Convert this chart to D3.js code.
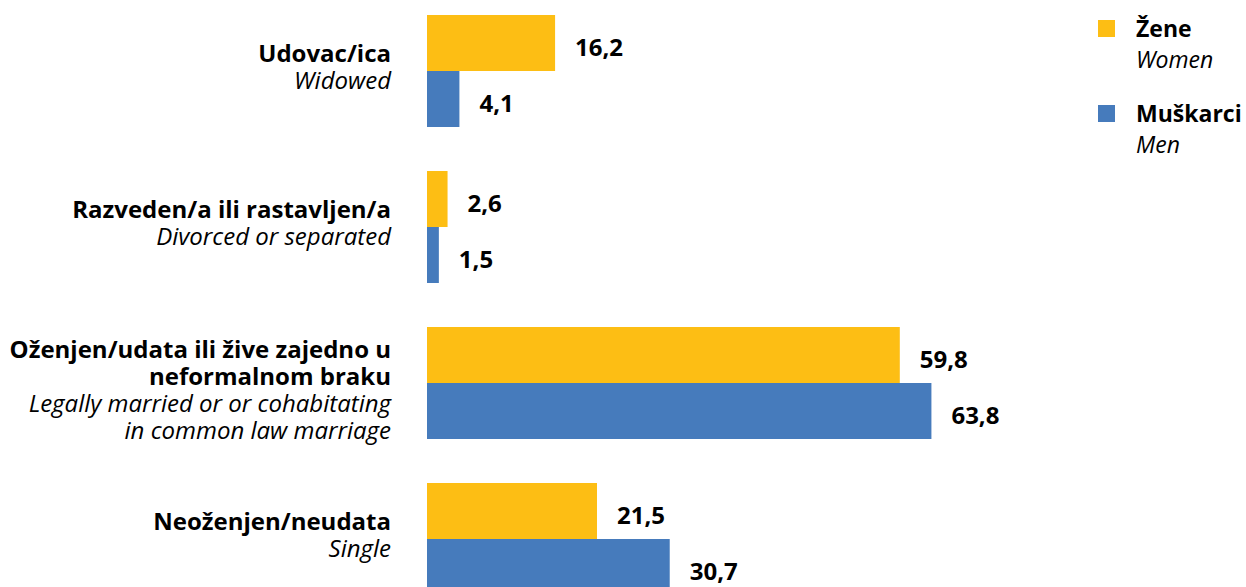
<!DOCTYPE html>
<html>
<head>
<meta charset="utf-8">
<script src="https://cdn.jsdelivr.net/npm/d3@7"></script>
<style>
  body { margin: 0; background: #fff; }
  text { font-family: "Open Sans", "DejaVu Sans", sans-serif; fill: #000; }
</style>
</head>
<body>
<div id="chart"></div>
<script>
const width = 1246,
      height = 587,
      bar_left = 427,
      label_right = 391,
      label_font = '24px',
      value_font = '24px',
      legend_font = '23px',
      line_height = 27,
      color_women = '#FDBE14',
      color_men = '#467BBC'

// data
const categories = ['Udovac/ica', 'Razveden/a ili rastavljen/a', 'Oženjen/udata ili žive zajedno u neformalnom braku', 'Neoženjen/neudata']
const category_lines = [
  ['Udovac/ica'],
  ['Razveden/a ili rastavljen/a'],
  ['Oženjen/udata ili žive zajedno u', 'neformalnom braku'],
  ['Neoženjen/neudata']
]
const category_en = [
  ['Widowed'],
  ['Divorced or separated'],
  ['Legally married or or cohabitating', 'in common law marriage'],
  ['Single']
]
const series_keys = ['women', 'men']
const series_names = ['Žene', 'Muškarci']
const series_names_en = ['Women', 'Men']
const women_values = [16.2, 2.6, 59.8, 21.5]
const men_values = [4.1, 1.5, 63.8, 30.7]

function fmt(v) {
  return d3.format('.1f')(v).replace('.', ',')
}

const svg = d3.select('#chart')
  .append('svg')
  .attr('width', width)
  .attr('height', height)

const x = d3.scaleLinear().domain([0, 64]).range([bar_left, 933])

const y = d3.scaleBand()
  .domain(categories)
  .range([15, 595])
  .paddingInner(44 / 156)
  .paddingOuter(0)

const y_sub = d3.scaleBand()
  .domain(series_keys)
  .range([0, y.bandwidth()])

const color = d3.scaleOrdinal().domain(series_keys).range([color_women, color_men])

const rows = categories.map((c, i) => ({
  category: c,
  index: i,
  values: [
    { key: 'women', value: women_values[i] },
    { key: 'men', value: men_values[i] }
  ]
}))

const groups = svg.selectAll('g.group')
  .data(rows)
  .join('g')
  .attr('class', 'group')
  .attr('transform', d => `translate(0,${y(d.category)})`)

groups.selectAll('rect')
  .data(d => d.values)
  .join('rect')
  .attr('x', x(0))
  .attr('y', d => y_sub(d.key))
  .attr('width', d => x(d.value) - x(0))
  .attr('height', y_sub.bandwidth())
  .style('fill', d => color(d.key))

groups.selectAll('text.value')
  .data(d => d.values)
  .join('text')
  .attr('class', 'value')
  .attr('x', d => x(d.value) + 20)
  .attr('y', d => y_sub(d.key) + y_sub.bandwidth() / 2 + 12.5)
  .style('font-size', value_font)
  .style('font-weight', 'bold')
  .text(d => fmt(d.value))

// category labels, local and english
groups.each(function(d) {
  const lines = category_lines[d.index].map(t => ({ t: t, italic: false }))
    .concat(category_en[d.index].map(t => ({ t: t, italic: true })))
  const n = lines.length
  const center = y.bandwidth() / 2
  const first = center - 9 - (n - 2) * 8
  d3.select(this).selectAll('text.cat')
    .data(lines)
    .join('text')
    .attr('class', 'cat')
    .attr('x', label_right)
    .attr('y', (l, i) => first + i * line_height)
    .attr('text-anchor', 'end')
    .style('font-size', label_font)
    .style('font-weight', l => l.italic ? 'normal' : 'bold')
    .style('font-style', l => l.italic ? 'italic' : 'normal')
    .text(l => l.t)
})

// legend
const legend = svg.append('g').attr('transform', 'translate(1098,20)')
const items = legend.selectAll('g')
  .data(series_keys)
  .join('g')
  .attr('transform', (d, i) => `translate(0,${i * 85})`)

items.append('rect')
  .attr('width', 17)
  .attr('height', 17)
  .style('fill', d => color(d))

items.append('text')
  .attr('x', 38)
  .attr('y', 17)
  .style('font-size', legend_font)
  .style('font-weight', 'bold')
  .text((d, i) => series_names[i])

items.append('text')
  .attr('x', 38)
  .attr('y', 48)
  .style('font-size', legend_font)
  .style('font-style', 'italic')
  .text((d, i) => series_names_en[i])
</script>
</body>
</html>
